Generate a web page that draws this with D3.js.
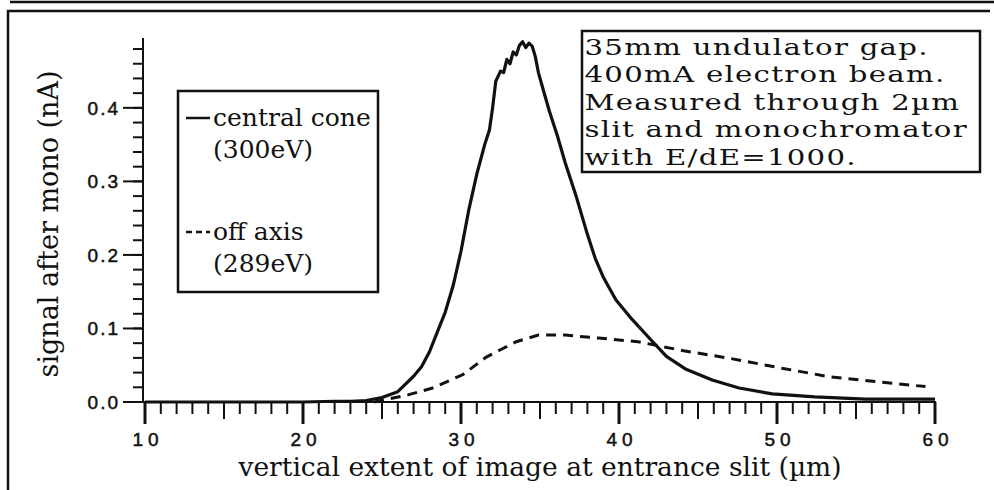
<!DOCTYPE html>
<html>
<head>
<meta charset="utf-8">
<script src="https://cdn.jsdelivr.net/npm/d3@7"></script>
<style>
  body { margin: 0; background: #fff; }
  svg { display: block; }
</style>
</head>
<body>
<svg></svg>
<script>
const width = 994;
const height = 490;
const INK = "#111";
const SERIF = "'DejaVu Serif', 'Liberation Serif', serif";
const SANS = "'Liberation Sans', Arial, sans-serif";

// central cone (300eV)
const coneX = [10, 12, 14, 16, 18, 20, 22, 23, 24, 25, 26, 27, 27.5, 28, 28.5, 29, 29.5, 30, 30.5, 31, 31.5, 31.8,
   32, 32.2, 32.5, 32.7, 32.9, 33.1, 33.3, 33.5, 33.7, 33.9, 34.1, 34.3, 34.5, 34.7, 34.9, 35.2, 35.6, 36.1, 36.6,
   37.3, 38, 38.5, 39, 39.8, 40.8, 42, 43, 44.2, 45.9, 47.6, 49.7, 52.4, 55.6, 60];
const coneY = [0, 0, 0, 0, 0, 0, 0.001, 0.001, 0.002, 0.006, 0.014, 0.035, 0.048, 0.068, 0.095, 0.122, 0.158, 0.205,
   0.262, 0.31, 0.35, 0.37, 0.4, 0.436, 0.45, 0.448, 0.466, 0.46, 0.476, 0.472, 0.485, 0.49, 0.482, 0.488, 0.484,
   0.47, 0.448, 0.425, 0.395, 0.362, 0.325, 0.279, 0.228, 0.195, 0.17, 0.139, 0.113, 0.085, 0.062, 0.045, 0.03,
   0.019, 0.011, 0.007, 0.004, 0.004];

// off axis (289eV)
const offX = [24.5, 25.2, 26.7, 28.2, 30.1, 31.6, 32.4, 33.5, 34.9, 36.6, 38.7, 41.2, 44, 47.1, 50.3, 53.4, 56.6, 59.4];
const offY = [0, 0.003, 0.01, 0.019, 0.037, 0.061, 0.07, 0.082, 0.091, 0.091, 0.087, 0.082, 0.07, 0.059, 0.046,
   0.034, 0.027, 0.021];

const xTicks = [10, 20, 30, 40, 50, 60];
const yTicks = [0, 0.1, 0.2, 0.3, 0.4];
const legendLabels = [["central cone", "(300eV)"], ["off axis", "(289eV)"]];
const noteLines = ["35mm undulator gap.", "400mA  electron beam.", "Measured through 2µm",
   "slit and monochromator", "with E/dE=1000."];

const svg = d3.select("svg").attr("width", width).attr("height", height);

const x = d3.scaleLinear().domain([10, 60]).range([145, 935]);
const y = d3.scaleLinear().domain([0, 0.495]).range([402, 38]);

// scan frame
svg.append("line").attr("x1", 10).attr("x2", width).attr("y1", 2).attr("y2", 2)
   .attr("stroke", INK).attr("stroke-width", 2.5);
svg.append("path").attr("d", `M8,${height} V11 H990`)
   .attr("fill", "none").attr("stroke", INK).attr("stroke-width", 2.5);

// y axis: ticks pointing left, minor every 0.02
const yAxis = svg.append("g").attr("stroke", INK).attr("stroke-width", 2);
yAxis.append("line").attr("x1", x(10) - 2).attr("x2", x(10) - 2).attr("y1", y(0)).attr("y2", y(0.495));
yAxis.selectAll(".minor")
   .data(d3.range(1, 25).map(i => i * 0.02))
   .enter()
   .append("line")
   .attr("x1", x(10) - 2).attr("x2", x(10) - 12)
   .attr("y1", d => y(d)).attr("y2", d => y(d));
yAxis.selectAll(".major")
   .data(yTicks)
   .enter()
   .append("line")
   .attr("x1", x(10) - 2).attr("x2", x(10) - 22)
   .attr("y1", d => y(d)).attr("y2", d => y(d));
svg.append("g")
   .selectAll("text")
   .data(yTicks)
   .enter()
   .append("text")
   .attr("x", 120)
   .attr("y", d => y(d) + 7)
   .attr("text-anchor", "end")
   .attr("font-family", SANS).attr("font-size", 19).attr("letter-spacing", 2)
   .attr("fill", INK).attr("stroke", INK).attr("stroke-width", 0.5)
   .text(d => d3.format(".1f")(d));

// x axis: ticks pointing down, minor every 1, mid every 5
const xAxis = svg.append("g").attr("stroke", INK).attr("stroke-width", 2);
xAxis.append("line").attr("x1", x(10) - 2).attr("x2", x(60) + 1).attr("y1", y(0)).attr("y2", y(0));
xAxis.selectAll(".tick")
   .data(d3.range(10, 61))
   .enter()
   .append("line")
   .attr("x1", d => x(d)).attr("x2", d => x(d))
   .attr("y1", y(0))
   .attr("y2", d => y(0) + (d % 10 === 0 ? 22 : d % 5 === 0 ? 17 : 12))
   .attr("stroke-width", d => d % 10 === 0 ? 3 : 2);
svg.append("g")
   .selectAll("text")
   .data(xTicks)
   .enter()
   .append("text")
   .attr("x", d => x(d) + 3)
   .attr("y", 446)
   .attr("text-anchor", "middle")
   .attr("font-family", SANS).attr("font-size", 19).attr("letter-spacing", 5)
   .attr("fill", INK).attr("stroke", INK).attr("stroke-width", 0.5)
   .text(d => d);

// axis titles
svg.append("text")
   .attr("transform", `translate(58, 224) rotate(-90)`)
   .attr("text-anchor", "middle")
   .attr("font-family", SERIF).attr("font-size", 27)
   .attr("fill", INK)
   .text("signal after mono (nA)");
svg.append("text")
   .attr("x", 540).attr("y", 476)
   .attr("text-anchor", "middle")
   .attr("font-family", SERIF).attr("font-size", 26.5)
   .attr("fill", INK)
   .text("vertical extent of image at entrance slit (µm)");

// curves
const line = d3.line().x(d => x(d[0])).y(d => y(d[1]));
svg.append("path")
   .datum(d3.zip(offX, offY))
   .attr("d", line)
   .attr("fill", "none").attr("stroke", INK).attr("stroke-width", 3)
   .attr("stroke-dasharray", "10,7");
svg.append("path")
   .datum(d3.zip(coneX, coneY))
   .attr("d", line)
   .attr("fill", "none").attr("stroke", INK).attr("stroke-width", 3.2)
   .attr("stroke-linejoin", "round");

// legend box
const legend = svg.append("g").attr("transform", "translate(178, 91)");
legend.append("rect")
   .attr("width", 200).attr("height", 201)
   .attr("fill", "#fff").attr("stroke", INK).attr("stroke-width", 2.5);
legend.selectAll(".sample")
   .data(legendLabels)
   .enter()
   .append("line")
   .attr("x1", 8).attr("x2", 32)
   .attr("y1", (d, i) => 27 + i * 114).attr("y2", (d, i) => 27 + i * 114)
   .attr("stroke", INK).attr("stroke-width", 2.5)
   .attr("stroke-dasharray", (d, i) => i ? "6,4" : null);
legend.selectAll(".label")
   .data(legendLabels)
   .enter()
   .append("text")
   .attr("y", (d, i) => 35 + i * 114)
   .attr("font-family", SERIF).attr("font-size", 25)
   .attr("fill", INK)
   .selectAll("tspan")
   .data(d => d)
   .enter()
   .append("tspan")
   .attr("x", 35)
   .attr("dy", (d, i) => i ? 32 : 0)
   .text(d => d);

// note box: the scan's face is wider than DejaVu, so stretch it sideways
const note = svg.append("g").attr("transform", "translate(582, 31)");
note.append("rect")
   .attr("width", 398).attr("height", 141)
   .attr("fill", "#fff").attr("stroke", INK).attr("stroke-width", 2.5);
note.append("g")
   .attr("transform", "scale(1.27, 1)")
   .append("text")
   .attr("font-family", SERIF).attr("font-size", 23).attr("letter-spacing", 1)
   .attr("fill", INK)
   .selectAll("tspan")
   .data(noteLines)
   .enter()
   .append("tspan")
   .attr("x", 2)
   .attr("y", (d, i) => 24 + i * 27.5)
   .text(d => d);
</script>
</body>
</html>
